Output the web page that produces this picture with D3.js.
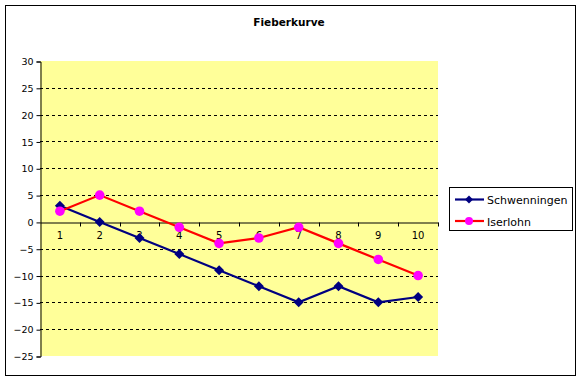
<!DOCTYPE html>
<html><head><meta charset="utf-8">
<script src="https://cdn.jsdelivr.net/npm/d3@7"></script>
<style>body{margin:0;background:#fff;}svg{display:block;}</style>
</head><body>
<script>
const title = "Fieberkurve";
const categories = ["1","2","3","4","5","6","7","8","9","10"];
const seriesNames = ["Schwenningen","Iserlohn"];
const schwenningen = [3,0,-3,-6,-9,-12,-15,-12,-15,-14];
const iserlohn = [2,5,2,-1,-4,-3,-1,-4,-7,-10];
const yTicks = [30,25,20,15,10,5,0,-5,-10,-15,-20,-25];

const W = 582, H = 381;
const svg = d3.select("body").append("svg").attr("width", W).attr("height", H);
svg.append("rect").attr("x",5.5).attr("y",5.5).attr("width",570).attr("height",370)
  .attr("fill","#fff").attr("stroke","#000").attr("stroke-width",1);

const pl = 40, pr = 438, pt = 61, pb = 356;
const x = d3.scaleBand().domain(categories).range([pl, pr]);
const y = d3.scaleLinear().domain([-25, 30]).range([pb, pt]);

svg.append("rect").attr("x",pl).attr("y",pt).attr("width",pr-pl).attr("height",pb-pt).attr("fill","#FFFF99");

// gridlines
svg.append("g").selectAll("line").data(yTicks.filter(v => v !== 0 && v !== 30 && v !== -25)).join("line")
  .attr("x1",pl).attr("x2",pr).attr("y1",d=>Math.round(y(d))+0.5).attr("y2",d=>Math.round(y(d))+0.5)
  .attr("stroke","#000").attr("stroke-dasharray","3,3").attr("stroke-width",1);

// y axis
const yAxis = d3.axisLeft(y).tickValues(yTicks).tickSize(4).tickPadding(3).tickFormat(d3.format("d"));
const gy = svg.append("g").attr("transform",`translate(${pl+0.5},0.5)`).call(yAxis);
gy.selectAll("text").attr("font-family","DejaVu Sans, sans-serif").attr("font-size","9.5px").attr("fill","#000");
gy.select(".domain").attr("stroke","#000");

// x axis at zero
const y0 = Math.round(y(0));
const xAxis = d3.axisBottom(x).tickSize(0).tickPadding(9);
const gx = svg.append("g").attr("transform",`translate(0,${y0+0.5})`).call(xAxis);
gx.select(".domain").attr("stroke","#000");
gx.selectAll("text").attr("font-family","DejaVu Sans, sans-serif").attr("font-size","10px").attr("fill","#000");
gx.append("g").selectAll("line").data(categories).join("line")
  .attr("x1", (d,i)=> Math.round(pl + x.bandwidth()*(i+1))+0.5)
  .attr("x2", (d,i)=> Math.round(pl + x.bandwidth()*(i+1))+0.5)
  .attr("y1",0).attr("y2",4).attr("stroke","#000");

const cx = d => x(d) + x.bandwidth()/2;
const line = d3.line().x((d,i)=>cx(categories[i])).y(d=>y(d));
const diamond = (s) => `M0,${-s}L${s},0L0,${s}L${-s},0Z`;

// Schwenningen
svg.append("path").datum(schwenningen).attr("d",line).attr("fill","none").attr("stroke","#000080").attr("stroke-width",2.2);
svg.append("g").selectAll("path").data(schwenningen).join("path")
  .attr("d", diamond(5))
  .attr("transform",(d,i)=>`translate(${cx(categories[i])},${y(d)})`)
  .attr("fill","#000080");

// Iserlohn
svg.append("path").datum(iserlohn).attr("d",line).attr("fill","none").attr("stroke","#FF0000").attr("stroke-width",2.2);
svg.append("g").selectAll("circle").data(iserlohn).join("circle")
  .attr("cx",(d,i)=>cx(categories[i])).attr("cy",d=>y(d)).attr("r",4.8).attr("fill","#FF00FF");

// title
svg.append("text").attr("x",289).attr("y",26).attr("text-anchor","middle")
  .attr("font-family","DejaVu Sans, sans-serif").attr("font-weight","bold").attr("font-size","10.5px").text(title);

// legend
const lg = svg.append("g");
lg.append("rect").attr("x",449.5).attr("y",187.5).attr("width",123).attr("height",43).attr("fill","#fff").attr("stroke","#000");
const colors = [["#000080","#000080"],["#FF0000","#FF00FF"]];
seriesNames.forEach((n,i)=>{
  const yy = 199.5 + i*21.5;
  lg.append("line").attr("x1",455).attr("x2",484).attr("y1",yy).attr("y2",yy).attr("stroke",colors[i][0]).attr("stroke-width",2.2);
  if(i===0) lg.append("path").attr("d",diamond(4)).attr("transform",`translate(469,${yy})`).attr("fill",colors[i][1]);
  else lg.append("circle").attr("cx",469).attr("cy",yy).attr("r",4).attr("fill",colors[i][1]);
  lg.append("text").attr("x",487).attr("y",yy+4.5).attr("font-family","DejaVu Sans, sans-serif").attr("font-size","11px").text(n);
});
</script>
</body></html>
